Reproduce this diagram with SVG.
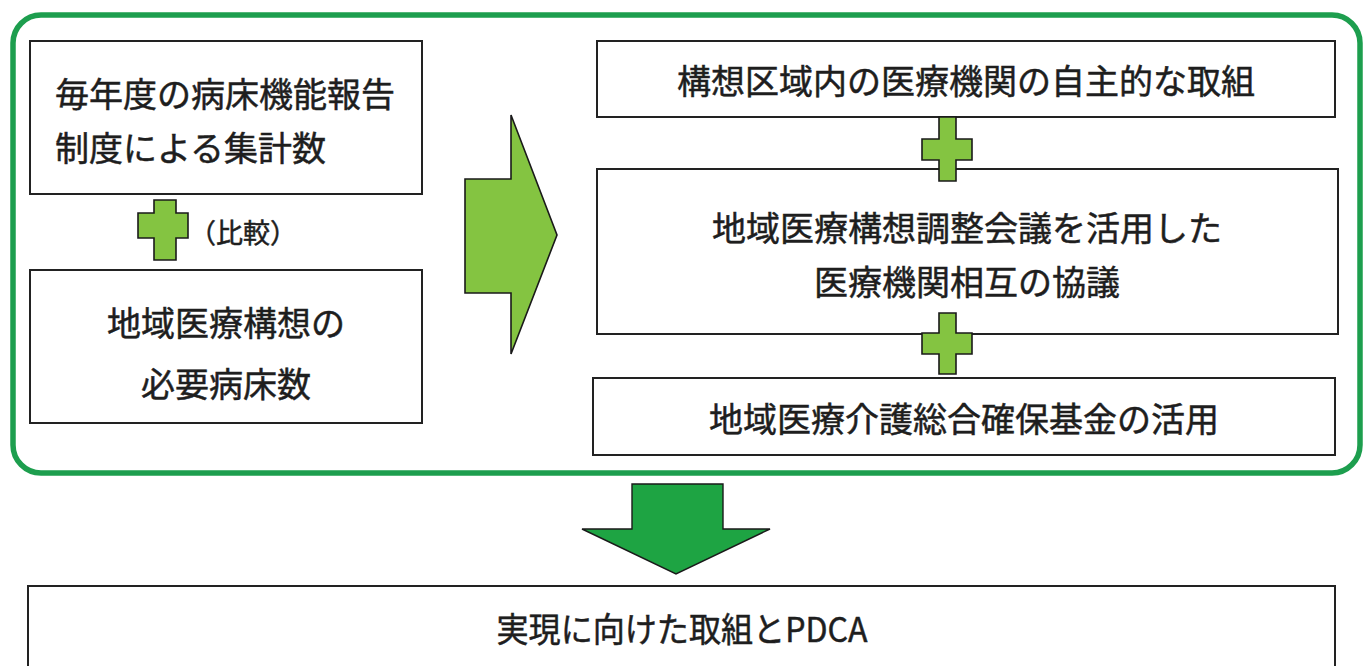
<svg xmlns="http://www.w3.org/2000/svg" width="1368" height="666" viewBox="0 0 1368 666">
<style>
  .box { fill: #ffffff; stroke: #222222; stroke-width: 2; }
  .t { font-family: "Noto Sans CJK JP", "Noto Sans", sans-serif; font-size: 34px; fill: #1e1e1e; stroke: #1e1e1e; stroke-width: 0.5; dominant-baseline: central; }
  .c { text-anchor: middle; }
  .plus { fill: #84c441; stroke: #1a1a1a; stroke-width: 1.6; stroke-linejoin: miter; }
  .rarrow { fill: #84c441; stroke: #1a1a1a; stroke-width: 1.6; }
  .darrow { fill: #1ea443; stroke: #1a1a1a; stroke-width: 1.4; }
  .frame { fill: none; stroke: #1d9e4e; stroke-width: 5.5; }
</style>
<rect x="0" y="0" width="1368" height="666" fill="#ffffff"/>

<g id="frame">
  <rect class="frame" x="13" y="15" width="1347" height="458" rx="28" ry="28"/>
</g>

<g id="connectors">
  <polygon id="arrow-right" class="rarrow" points="465,179 511,179 511,115 557,235 511,354 511,293 465,293"/>
  <polygon id="arrow-down" class="darrow" points="632,484 723,484 723,529 770,529 676,574 582,529 632,529"/>
</g>

<g id="node-report">
  <rect class="box" x="30" y="41" width="392" height="153"/>
  <text class="t" x="55" y="92">毎年度の病床機能報告</text>
  <text class="t" x="55" y="146">制度による集計数</text>
</g>

<g id="plus-compare">
  <polygon class="plus" points="154,200 176,200 176,213 188,213 188,238 176,238 176,260 154,260 154,238 138,238 138,213 154,213"/>
  <text class="t" x="189" y="231" style="font-size:27px">（比較）</text>
</g>

<g id="node-required">
  <rect class="box" x="30" y="270" width="392" height="153"/>
  <text class="t c" x="226" y="321">地域医療構想の</text>
  <text class="t c" x="226" y="382">必要病床数</text>
</g>

<g id="node-voluntary">
  <rect class="box" x="597" y="41" width="738" height="76"/>
  <text class="t c" x="966" y="79">構想区域内の医療機関の自主的な取組</text>
</g>

<g id="node-council">
  <rect class="box" x="597" y="169" width="741" height="165"/>
  <text class="t c" x="967" y="226">地域医療構想調整会議を活用した</text>
  <text class="t c" x="967" y="280">医療機関相互の協議</text>
</g>

<g id="node-fund">
  <rect class="box" x="593" y="378" width="742" height="77"/>
  <text class="t c" x="964" y="417">地域医療介護総合確保基金の活用</text>
</g>

<g id="plus-1">
  <polygon class="plus" points="939,117 956,117 956,139 972,139 972,160 956,160 956,181 939,181 939,160 922,160 922,139 939,139"/>
</g>
<g id="plus-2">
  <polygon class="plus" points="939,313 956,313 956,333 972,333 972,354 956,354 956,374 939,374 939,354 922,354 922,333 939,333"/>
</g>

<g id="node-pdca">
  <rect class="box" x="28" y="586" width="1307" height="120"/>
  <text class="t c" x="682" y="627" textLength="371" lengthAdjust="spacingAndGlyphs">実現に向けた取組とPDCA</text>
</g>
</svg>
